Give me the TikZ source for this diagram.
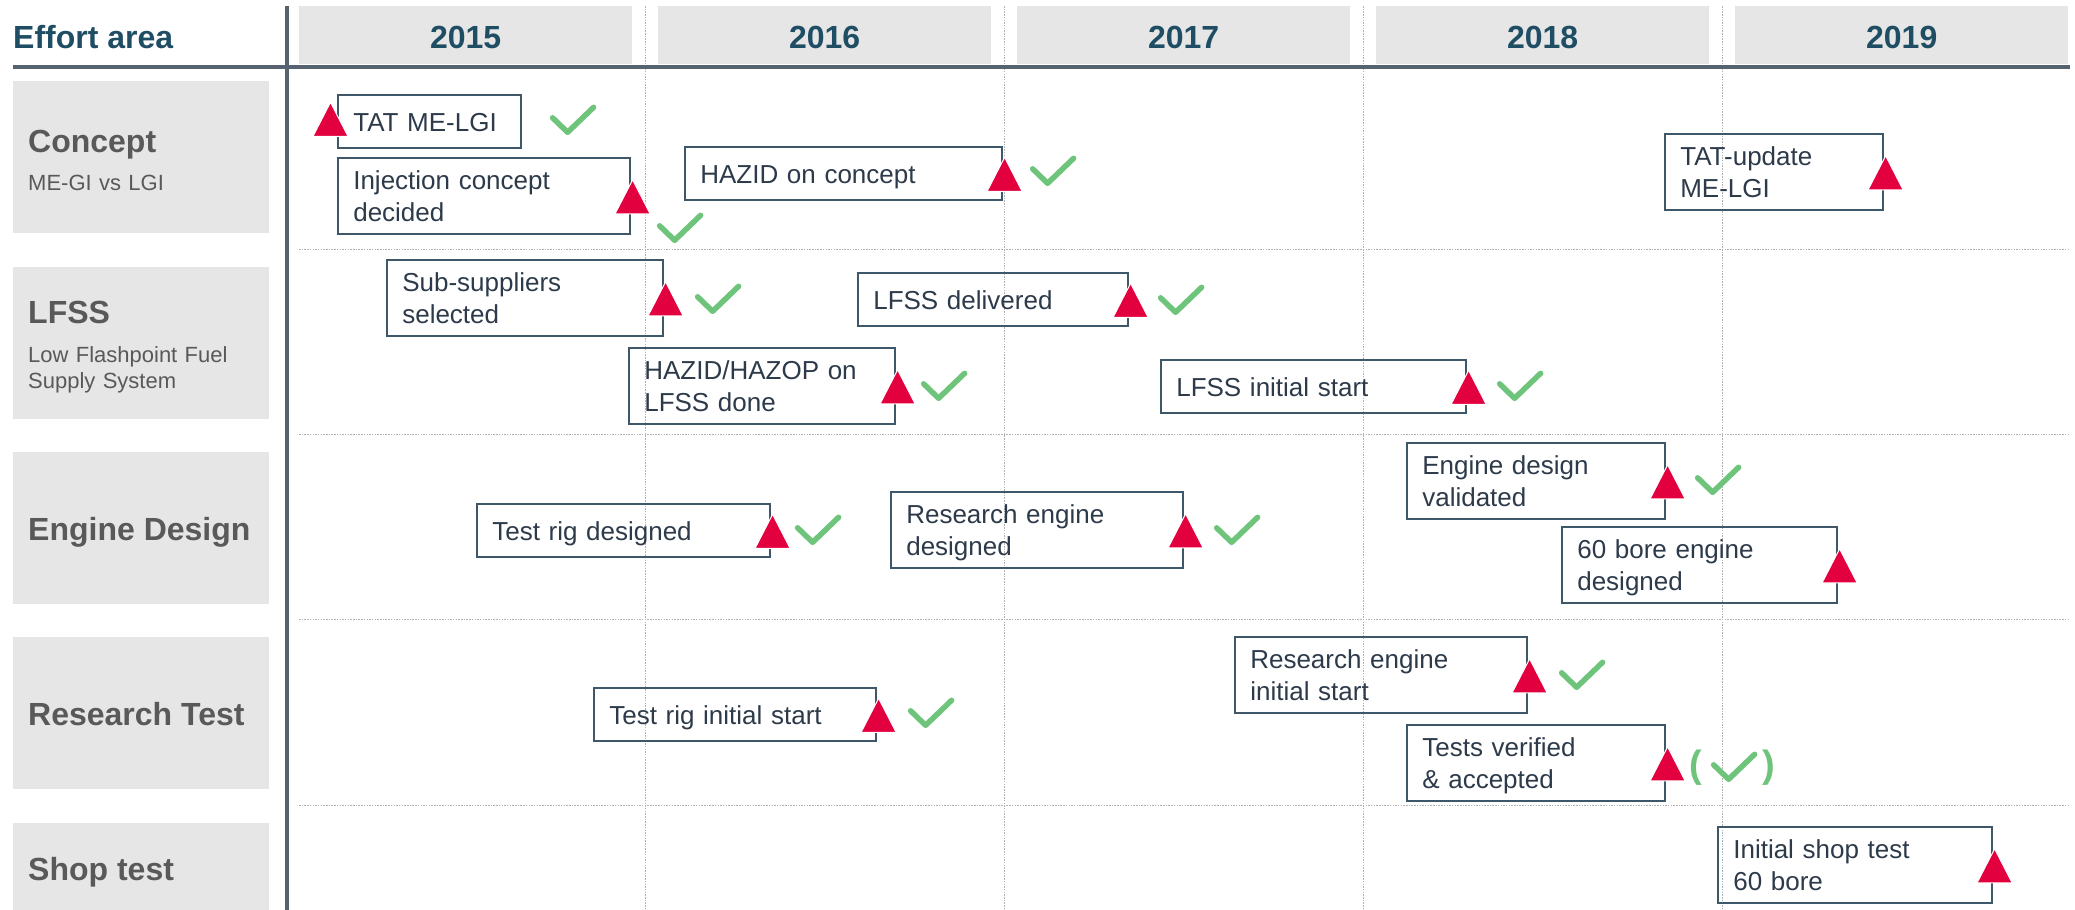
\documentclass[tikz,border=0pt]{standalone}
\usepackage{fontspec}
\setmainfont{Liberation Sans}

\definecolor{headteal}{RGB}{31,78,100}
\definecolor{labelgray}{RGB}{89,89,89}
\definecolor{panelgray}{RGB}{230,230,230}
\definecolor{axisgray}{RGB}{86,99,110}
\definecolor{gridgray}{RGB}{178,178,178}
\definecolor{boxline}{RGB}{62,88,106}
\definecolor{boxtext}{RGB}{45,58,74}
\definecolor{markred}{RGB}{227,0,62}
\definecolor{okgreen}{RGB}{110,196,122}

% strut used in milestone boxes: 26pt above, 6pt below the baseline
\newcommand\mstrut{\rule[-6pt]{0pt}{32pt}}

\tikzset{
  panel/.style={fill=panelgray, draw=none, inner sep=0pt, anchor=north west},
  yearbox/.style={panel, minimum width=333pt, minimum height=58pt,
    text height=26pt, text depth=0pt,
    font=\bfseries\fontsize{32}{38}\selectfont, text=headteal},
  rowpanel/.style={panel, minimum width=256pt},
  rowtitle/.style={anchor=base west, inner sep=0pt,
    font=\bfseries\fontsize{32}{38}\selectfont, text=labelgray},
  rowsub/.style={anchor=base west, inner sep=0pt, text width=235pt, align=left,
    font=\fontsize{22}{26}\selectfont, text=labelgray},
  gridline/.style={draw=gridgray, line width=1pt, dash pattern=on 1.5pt off 1.2pt},
  axisline/.style={draw=axisgray, line width=4pt},
  msbox/.style={draw=boxline, line width=1.6pt, anchor=north west,
    inner xsep=15.5pt, inner ysep=0pt, align=left,
    font=\fontsize{26}{32}\selectfont, text=boxtext},
  okparen/.style={inner sep=0pt, font=\bfseries\fontsize{38}{44}\selectfont, text=okgreen},
  flag/.pic={\fill[markred, draw=white, line width=1pt]
    (-17.5,17) -- (17.5,17) -- (0,-17) -- cycle;},
  tick/.pic={\draw[okgreen, line width=5.5pt, line cap=round, line join=round]
    (4,14) -- (19,28.5) -- (45,3.5);}
}

\begin{document}
\begin{tikzpicture}[x=1pt, y=-1pt]
\useasboundingbox (0,0) rectangle (2075,910);

% ---- header row ----
\node[anchor=base west, inner sep=0pt, font=\bfseries\fontsize{32}{38}\selectfont,
      text=headteal] (hdr) at (13,48) {Effort area};
\node[yearbox] (y2015) at (299,6)  {2015};
\node[yearbox] (y2016) at (658,6)  {2016};
\node[yearbox] (y2017) at (1017,6) {2017};
\node[yearbox] (y2018) at (1376,6) {2018};
\node[yearbox] (y2019) at (1735,6) {2019};

% ---- effort area panels ----
\node[rowpanel, minimum height=152pt] (r1) at (13,81)  {};
\node[rowpanel, minimum height=152pt] (r2) at (13,267) {};
\node[rowpanel, minimum height=152pt] (r3) at (13,452) {};
\node[rowpanel, minimum height=152pt] (r4) at (13,637) {};
\node[rowpanel, minimum height=87pt]  (r5) at (13,823) {};

\node[rowtitle] (t1) at (28,152) {Concept};
\node[rowsub]   (s1) at (28,190) {ME-GI vs LGI};
\node[rowtitle] (t2) at (28,323) {LFSS};
\node[rowsub]   (s2) at (28,362) {Low Flashpoint Fuel\\Supply System};
\node[rowtitle] (t3) at (28,540) {Engine Design};
\node[rowtitle] (t4) at (28,725) {Research Test};
\node[rowtitle] (t5) at (28,880) {Shop test};

% ---- grid ----
\foreach \x in {645,1004,1363,1722}
  \draw[gridline] (\x,6) -- (\x,910);
\foreach \y in {249,434,619,805}
  \draw[gridline] (299,\y) -- (2070,\y);

\draw[axisline] (287,6) -- (287,910);
\draw[axisline] (13,67) -- (2070,67);

% ---- milestones ----
% Concept
\node[msbox, text width=152pt, minimum height=53pt] (b1) at (337,94)
  {\mstrut TAT ME-LGI};
\node[msbox, text width=261pt, minimum height=76pt] (b2) at (337,157)
  {\mstrut Injection concept\\decided\mstrut};
\node[msbox, text width=286pt, minimum height=53pt] (b3) at (684,146)
  {\mstrut HAZID on concept};
\node[msbox, text width=187pt, minimum height=76pt] (b4) at (1664,133)
  {\mstrut TAT-update\\ME-LGI\mstrut};
% LFSS
\node[msbox, text width=245pt, minimum height=76pt] (b5) at (386,259)
  {\mstrut Sub-suppliers\\selected\mstrut};
\node[msbox, text width=235pt, minimum height=76pt] (b6) at (628,347)
  {\mstrut HAZID/HAZOP on\\LFSS done\mstrut};
\node[msbox, text width=239pt, minimum height=53pt] (b7) at (857,272)
  {\mstrut LFSS delivered};
\node[msbox, text width=274pt, minimum height=53pt] (b8) at (1160,359)
  {\mstrut LFSS initial start};
% Engine design
\node[msbox, text width=262pt, minimum height=53pt] (b9) at (476,503)
  {\mstrut Test rig designed};
\node[msbox, text width=261pt, minimum height=76pt] (b10) at (890,491)
  {\mstrut Research engine\\designed\mstrut};
\node[msbox, text width=227pt, minimum height=76pt] (b11) at (1406,442)
  {\mstrut Engine design\\validated\mstrut};
\node[msbox, text width=244pt, minimum height=76pt] (b12) at (1561,526)
  {\mstrut 60 bore engine\\designed\mstrut};
% Research test
\node[msbox, text width=251pt, minimum height=53pt] (b13) at (593,687)
  {\mstrut Test rig initial start};
\node[msbox, text width=261pt, minimum height=76pt] (b14) at (1234,636)
  {\mstrut Research engine\\initial start\mstrut};
\node[msbox, text width=227pt, minimum height=76pt] (b15) at (1406,724)
  {\mstrut Tests verified\\\&~accepted\mstrut};
% Shop test
\node[msbox, text width=243pt, minimum height=76pt] (b16) at (1717,826)
  {\mstrut Initial shop test\\60 bore\mstrut};

% ---- milestone markers ----
\pic at ([xshift=-6.5pt, yshift=2pt]b1.west) {flag};
\foreach \b in {b2,b3,b4,b5,b6,b7,b8,b9,b10,b11,b12,b13,b14,b15,b16}
  \pic at ([xshift=2pt, yshift=-1pt]\b.east) {flag};

% ---- completion ticks ----
\pic at ([xshift=27pt, yshift=17.5pt]b1.east)  {tick};
\pic at ([xshift=25pt, yshift=-16pt]b2.east)   {tick};
\pic at ([xshift=26pt, yshift=18.5pt]b3.east)  {tick};
\pic at ([xshift=30pt, yshift=15pt]b5.east)    {tick};
\pic at ([xshift=24pt, yshift=16pt]b6.east)    {tick};
\pic at ([xshift=28pt, yshift=15.5pt]b7.east)  {tick};
\pic at ([xshift=29pt, yshift=16.5pt]b8.east)  {tick};
\pic at ([xshift=23pt, yshift=16.5pt]b9.east)  {tick};
\pic at ([xshift=29pt, yshift=16pt]b10.east)   {tick};
\pic at ([xshift=28pt, yshift=17pt]b11.east)   {tick};
\pic at ([xshift=30pt, yshift=17.5pt]b13.east) {tick};
\pic at ([xshift=30pt, yshift=16pt]b14.east)   {tick};
\pic at ([xshift=44pt, yshift=12pt]b15.east)   {tick};
\node[okparen] (pl) at ([xshift=30pt, yshift=-4.5pt]b15.east)  {(};
\node[okparen] (pr) at ([xshift=103.5pt, yshift=-4.5pt]b15.east) {)};

\end{tikzpicture}
\end{document}
